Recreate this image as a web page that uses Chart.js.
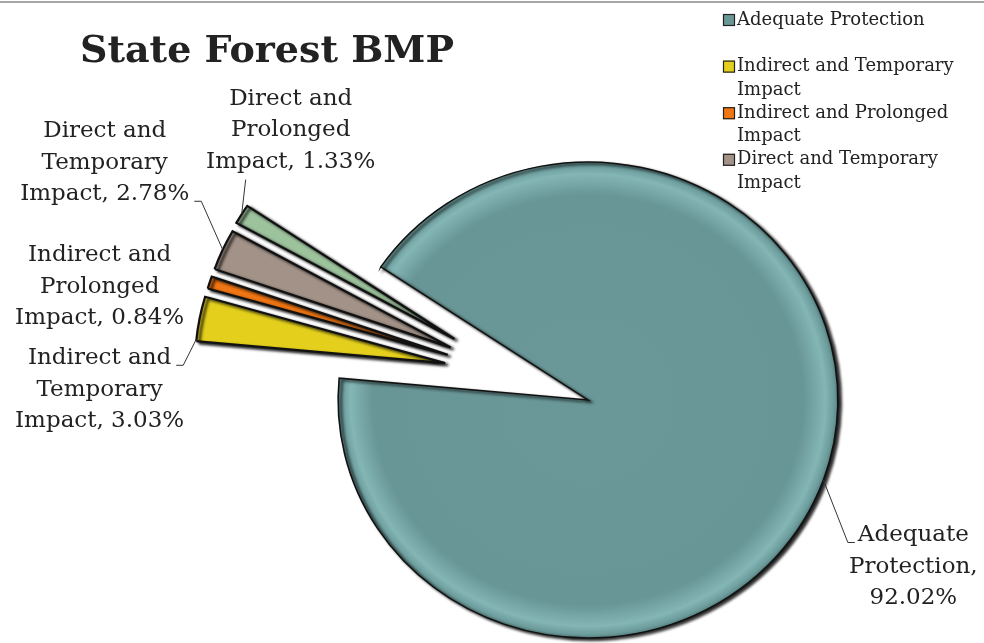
<!DOCTYPE html>
<html>
<head>
<meta charset="utf-8">
<script src="https://cdn.jsdelivr.net/npm/chart.js@4.4.1/dist/chart.umd.min.js"></script>
<style>
  html, body { margin: 0; padding: 0; background: #fff; }
</style>
</head>
<body>
<canvas id="chart" width="984" height="643"></canvas>
<script>
// chart data
const chartTitle = 'State Forest BMP';
const categories = [
  'Adequate Protection',
  'Indirect and Temporary Impact',
  'Indirect and Prolonged Impact',
  'Direct and Temporary Impact',
  'Direct and Prolonged Impact'
];
const shares = [92.02, 3.03, 0.84, 2.78, 1.33];

// look
const sliceColors = ['#699696', '#E4D01C', '#F07614', '#A29288', '#9DC39D'];
const explode = [0, 141, 141, 141, 141];
const labelNudge = [[90, 87], [-100, 71], [-110, 4], [-118, -87], [49, -84]];
const leaderSide = ['leftFirst', 'rightFirst', 'none', 'rightLast', 'bottom'];
const leaderTarget = ['mid', 'start', 'mid', 'mid', 'mid'];

const SERIF = '"DejaVu Serif", Georgia, serif';
const X_STRETCH = 1.05;
const LABEL_FONT = '23px ' + SERIF;
const LABEL_LH = 31.5;
const LABEL_WRAP = 210;
const LEGEND_FONT = '18px ' + SERIF;
const LEGEND_LH = 23.3;
const LEGEND_WRAP = 262;

function wrapText(ctx, text, maxW) {
  const words = text.split(' ');
  const lines = [];
  let cur = '';
  words.forEach(w => {
    const test = cur ? cur + ' ' + w : w;
    if (cur && ctx.measureText(test).width > maxW) {
      lines.push(cur);
      cur = w;
    } else {
      cur = test;
    }
  });
  if (cur) lines.push(cur);
  return lines;
}

// bevel-ish fill for the big slice, centred on the pie
function sliceFill(c) {
  const i = c.dataIndex;
  const area = c.chart.chartArea;
  if (i !== 0 || !area) return sliceColors[i];
  const cx = (area.left + area.right) / 2;
  const cy = (area.top + area.bottom) / 2;
  const r = c.chart.options.radius;
  const g = c.chart.ctx.createRadialGradient(cx, cy, 0, cx, cy, r);
  g.addColorStop(0, '#6A9898');
  g.addColorStop(0.86, '#689595');
  g.addColorStop(0.95, '#84B6B6');
  g.addColorStop(0.985, '#6C9B9B');
  g.addColorStop(1, '#557F7F');
  return g;
}

const piePlugin = {
  id: 'excelPie',
  afterDatasetUpdate(chart, args) {
    const arcs = args.meta.data;
    const moved = arcs.filter((a, i) => explode[i] > 0);
    if (!moved.length) return;
    const groupMid = (moved[0].startAngle + moved[moved.length - 1].endAngle) / 2;
    arcs.forEach((arc, i) => {
      if (!explode[i]) return;
      const mid = (arc.startAngle + arc.endAngle) / 2;
      const dir = groupMid + (mid - groupMid) * 0.5;
      arc.x += Math.cos(dir) * explode[i];
      arc.y += Math.sin(dir) * explode[i];
    });
  },
  beforeDraw(chart) {
    const ctx = chart.ctx;
    ctx.save();
    ctx.fillStyle = '#a6a6a6';
    ctx.fillRect(0, 1, chart.width, 2);
    ctx.restore();
  },
  beforeDatasetsDraw(chart) {
    const ctx = chart.ctx;
    const a = chart.chartArea;
    const cx = (a.left + a.right) / 2;
    ctx.save();
    ctx.translate(cx, 0);
    ctx.scale(X_STRETCH, 1);
    ctx.translate(-cx, 0);
    ctx.shadowColor = 'rgba(0,0,0,0.9)';
    ctx.shadowBlur = 3;
    ctx.shadowOffsetX = 3;
    ctx.shadowOffsetY = 2;
  },
  afterDatasetsDraw(chart) {
    const ctx = chart.ctx;
    ctx.restore();
    const a = chart.chartArea;
    const cx = (a.left + a.right) / 2;
    const meta = chart.getDatasetMeta(0);

    // data labels
    ctx.save();
    ctx.font = LABEL_FONT;
    ctx.fillStyle = '#222';
    ctx.textAlign = 'center';
    ctx.textBaseline = 'middle';
    ctx.strokeStyle = '#333';
    ctx.lineWidth = 1;
    meta.data.forEach((arc, i) => {
      const mid = (arc.startAngle + arc.endAngle) / 2;
      const r = arc.outerRadius;
      const ax = cx + (arc.x + Math.cos(mid) * r - cx) * X_STRETCH;
      const ay = arc.y + Math.sin(mid) * r;
      const lines = wrapText(ctx, categories[i] + ', ' + shares[i].toFixed(2) + '%', LABEL_WRAP);
      const bx = ax + labelNudge[i][0];
      const by = ay + labelNudge[i][1];
      const top = by - lines.length * LABEL_LH / 2;
      lines.forEach((t, k) => ctx.fillText(t, bx, top + LABEL_LH * (k + 0.5)));

      const side = leaderSide[i];
      if (side === 'none') return;
      let tx = ax, ty = ay;
      if (leaderTarget[i] === 'start') {
        const ang = arc.startAngle + 0.01;
        tx = cx + (arc.x + Math.cos(ang) * r - cx) * X_STRETCH;
        ty = arc.y + Math.sin(ang) * r;
      }
      ctx.beginPath();
      if (side === 'leftFirst' || side === 'rightFirst' || side === 'rightLast') {
        const k = side === 'rightLast' ? lines.length - 1 : 0;
        const w = ctx.measureText(lines[k]).width;
        const base = top + LABEL_LH * (k + 0.5) + 7;
        if (side === 'leftFirst') {
          const x0 = bx - w / 2 - 3;
          ctx.moveTo(x0, base);
          ctx.lineTo(x0 - 7, base);
        } else {
          const x0 = bx + w / 2 + 5;
          ctx.moveTo(x0, base);
          ctx.lineTo(x0 + 7, base);
        }
      } else {
        ctx.moveTo(ax + 4, top + LABEL_LH * lines.length + 2);
      }
      ctx.lineTo(tx, ty);
      ctx.stroke();
    });
    ctx.restore();
  },
  afterDraw(chart) {
    const ctx = chart.ctx;
    ctx.save();
    // title
    ctx.font = 'bold 38px ' + SERIF;
    ctx.fillStyle = '#222';
    ctx.textAlign = 'left';
    ctx.textBaseline = 'alphabetic';
    ctx.fillText(chartTitle, 80, 62);

    // legend, two rows per entry like Excel
    ctx.font = LEGEND_FONT;
    ctx.textBaseline = 'middle';
    let y = 20;
    for (let i = 0; i < categories.length; i++) {
      if (y + LEGEND_LH > 200) break;
      const lines = wrapText(ctx, categories[i], LEGEND_WRAP);
      ctx.fillStyle = sliceColors[i];
      ctx.fillRect(723, y - 6, 12, 12);
      ctx.strokeStyle = '#222';
      ctx.lineWidth = 1.2;
      ctx.strokeRect(723.5, y - 5.5, 11, 11);
      ctx.fillStyle = '#222';
      lines.forEach((t, k) => ctx.fillText(t, 737, y + k * LEGEND_LH));
      y += LEGEND_LH * 2;
    }
    ctx.restore();
  }
};

new Chart(document.getElementById('chart'), {
  type: 'pie',
  data: {
    labels: categories,
    datasets: [{
      data: shares,
      backgroundColor: sliceFill,
      borderColor: '#111',
      borderWidth: [1.5, 2.2, 2.2, 2.2, 2.2],
      borderJoinStyle: 'miter'
    }]
  },
  options: {
    responsive: false,
    animation: false,
    rotation: 304,
    radius: 238,
    layout: { padding: { left: 192, top: 157, right: 0, bottom: 0 } },
    plugins: {
      legend: { display: false },
      title: { display: false },
      tooltip: { enabled: false }
    }
  },
  plugins: [piePlugin]
});
</script>
</body>
</html>
